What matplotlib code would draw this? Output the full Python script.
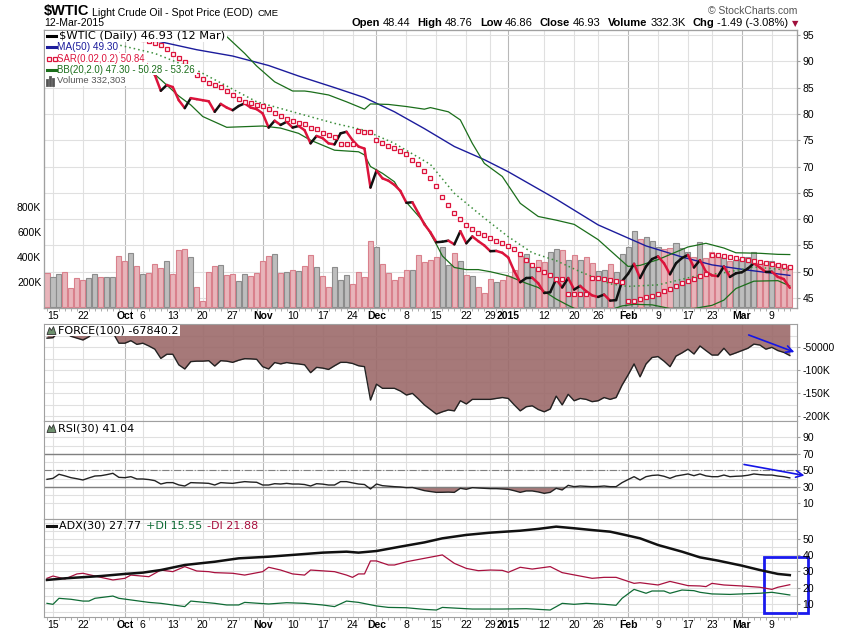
import matplotlib
matplotlib.use("Agg")
import matplotlib.pyplot as plt
from matplotlib.collections import LineCollection
from matplotlib.lines import Line2D
from matplotlib.patches import Rectangle, Polygon

plt.rcParams["font.family"] = ["DejaVu Sans"]

# trading-day index: 0 = 12 Sep 2014 ... 124 = 12 Mar 2015
tick_pos = [1, 6, 13, 16, 21, 26, 31, 36, 41, 46, 51, 55, 60, 65, 70, 74, 77,
            83, 88, 92, 97, 102, 107, 111, 116, 121]
tick_labels = ["15", "22", "Oct", "6", "13", "20", "27", "Nov", "10", "17", "24",
               "Dec", "8", "15", "22", "29", "2015", "12", "20", "26", "Feb", "9",
               "17", "23", "Mar", "9"]
month_labels = ["Oct", "Nov", "Dec", "2015", "Feb", "Mar"]

close = [92.3, 92.9, 94.9, 94.4, 93.1, 92.4, 91.5, 91.6, 92.8, 92.5, 93.5, 94.6, 91.2, 90.7, 91.0, 89.7, 90.3, 88.9, 87.4, 84.4,
         85.5, 85.1, 82.6, 81.1, 83.0, 82.8, 82.6, 82.4, 80.4, 81.9, 81.2, 80.7, 81.5, 82.0, 81.2, 80.9, 80.1, 77.4, 78.7, 77.9,
         78.5, 77.4, 77.7, 76.9, 74.4, 75.8, 75.4, 74.4, 74.2, 76.3, 76.6, 75.0, 73.8, 73.4, 66.0, 69.2, 67.75, 67.3, 66.5, 65.35,
         63.1, 63.2, 61.1, 59.0, 57.5, 55.6, 55.7, 55.9, 55.2, 57.7, 55.4, 56.7, 55.8, 55.0, 53.9, 53.95, 53.6, 52.7, 50.1, 48.0,
         48.8, 48.85, 47.8, 45.95, 46.1, 48.6, 47.0, 48.8, 46.6, 47.3, 46.3, 45.5, 45.2, 45.65, 44.5, 44.6, 48.2, 49.6, 51.5, 48.8,
         51.0, 52.4, 52.9, 51.6, 49.5, 51.6, 52.6, 53.2, 50.8, 52.2, 50.0, 49.3, 49.15, 51.0, 49.0, 49.7, 49.9, 50.6, 51.6, 50.8,
         49.95, 50.0, 49.0, 48.6, 46.93]

volume_k = [272, 240, 264, 280, 152, 232, 217, 232, 264, 240, 242, 242, 405, 370, 432, 325, 264, 272, 342, 312,
            370, 264, 458, 466, 400, 160, 47, 279, 327, 336, 255, 264, 210, 264, 247, 272, 370, 407, 424, 272,
            280, 296, 286, 328, 416, 320, 250, 160, 320, 218, 256, 186, 280, 240, 530, 480, 344, 272, 218, 240,
            298, 298, 418, 363, 376, 397, 477, 336, 429, 368, 254, 251, 158, 109, 222, 197, 216, 248, 298, 412,
            421, 320, 376, 360, 440, 461, 456, 376, 416, 376, 397, 349, 290, 296, 341, 278, 424, 477, 608, 544,
            557, 528, 483, 464, 472, 509, 470, 440, 400, 517, 390, 440, 420, 400, 370, 375, 385, 400, 440, 350,
            350, 365, 345, 345, 332]
volume_dir = ("d u u d d d d u u d u u d d u d u d d d "
              "u d d d u d d d d u d d u u d d d d u d "
              "u d u d d u d d u u u d d d d u d d d d "
              "d u d d d d u u d u d u d d d u d d d d "
              "u u d d u u d u d u d d u u d u u u u d "
              "u u u d d u u u d u d d d u d u u u u d "
              "d u d d d").split()

sar = [89.6, 89.8, 90.0, 90.4, 90.8, 91.0, 91.0, 91.0, 91.2, 91.4, 91.5, 91.7, 95.2, 95.0, 94.8, 94.6, 94.3, 93.9, 93.55, 93.1,
       92.3, 91.4, 90.6, 89.8, 88.6, 87.4, 86.7, 85.9, 85.5, 85.05, 84.3, 83.6, 82.9, 82.3, 82.0, 81.7, 81.5, 81.0, 80.1, 79.6,
       79.1, 78.7, 78.3, 78.1, 77.3, 77.2, 76.3, 76.0, 75.6, 74.2, 74.2, 74.2, 76.8, 76.5, 76.5, 75.0, 74.45, 73.9, 73.5, 73.0,
       72.4, 71.15, 70.5, 69.15, 67.8, 66.3, 64.2, 62.7, 61.2, 60.0, 58.9, 58.1, 57.35, 56.9, 56.4, 55.85, 55.4, 54.9, 54.3, 53.4,
       52.3, 51.3, 50.6, 49.9, 49.3, 48.6, 48.6, 45.7, 45.7, 45.7, 45.7, 48.8, 48.8, 48.6, 48.4, 48.2, 48.1, 44.45, 44.45, 44.85,
       45.1, 45.3, 45.75, 46.25, 46.7, 47.3, 47.8, 48.25, 48.7, 49.15, 49.6, 53.2, 53.1, 52.95, 52.75, 52.6, 52.45, 52.3, 52.1, 51.8,
       51.65, 51.45, 51.3, 51.15, 50.84]

ma50_x = [0, 7, 13, 19, 25, 31, 37, 42, 48, 53, 58, 63, 68, 73, 77, 81, 85, 92, 100, 106, 111, 117, 124]
ma50_y = [96.0, 95.6, 94.8, 93.7, 92.2, 91.0, 89.2, 87.2, 85.0, 83.1, 80.4, 77.2, 73.8, 71.3, 69.0, 66.4, 63.8, 58.9,
          54.9, 52.8, 51.3, 50.3, 49.3]

bb_up_x = [0, 10, 20, 27, 30, 33, 35, 38, 41, 43, 44, 47, 50, 53, 54, 57, 60, 63, 64, 67, 69, 71, 73, 76, 79,
           82, 85, 88, 92, 97, 99, 102, 107, 110, 113, 115, 119, 122, 124]
bb_up_y = [96.5, 96.8, 97.0, 96.6, 94.7, 91.5, 89.1, 86.1, 84.35, 84.35, 84.2, 83.6, 82.3, 80.9, 81.9, 81.8, 81.4, 80.9,
           81.2, 80.4, 78.85, 74.4, 70.6, 68.1, 63.0, 60.5, 59.8, 59.0, 56.1, 51.0, 51.2, 52.3, 54.7, 55.4, 54.5, 53.6,
           53.5, 53.3, 53.26]
bb_mid_x = [0, 6, 12, 18, 25, 30, 35, 41, 48, 53, 58, 64, 68, 73, 77, 81, 85, 89, 94, 97, 102, 108, 113, 118, 124]
bb_mid_y = [93.2, 93.3, 93.1, 91.5, 88.3, 85.3, 82.3, 80.4, 78.2, 76.9, 74.4, 70.4, 64.9, 60.2, 56.65, 53.6, 52.1, 50.0,
            47.7, 47.2, 47.5, 49.1, 49.8, 50.9, 50.28]
bb_lo_x = [0, 5, 10, 14, 17, 19, 22, 24, 26, 30, 36, 39, 42, 44, 48, 52, 53, 54, 56, 58, 60, 63, 65, 66, 68, 70,
           72, 74, 77, 80, 82, 85, 87, 89, 93, 96, 98, 101, 104, 108, 111, 113, 115, 118, 122, 124]
bb_lo_y = [89.5, 90.0, 90.2, 89.5, 88.5, 86.5, 83.4, 81.7, 79.5, 77.45, 77.7, 77.3, 76.3, 75.0, 73.1, 72.8, 72.2, 70.0,
           68.7, 67.1, 63.2, 59.3, 55.2, 53.0, 50.8, 50.4, 50.4, 50.0, 49.2, 47.8, 47.0, 44.8, 43.6, 42.5, 42.3, 43.5,
           43.8, 43.7, 43.0, 43.0, 43.6, 44.6, 46.8, 48.2, 48.3, 47.3]

force_k = [-30, -29, -15, -18, -26, -30, -34, -27, -15, -8, -5, -18, -41, -41, -35.5, -43.5, -41, -47, -54, -74,
           -65, -65, -88, -97, -81, -80, -80, -79, -90.6, -79, -80, -82.6, -78, -74.6, -75, -76, -92, -97, -83, -86,
           -83, -85, -86, -88, -105, -93.5, -95, -98, -90, -82.6, -82.6, -85, -90, -92, -164.5, -130, -139, -139, -139, -145,
           -153.6, -150, -162, -175, -185, -195, -190, -186, -188, -166, -173, -163, -163, -163, -163, -161, -159, -161, -175, -188,
           -179, -177, -185, -190, -184, -156, -175, -152, -166, -161, -163, -168, -166, -159, -163, -159, -132, -110, -86, -114,
           -86, -72, -70, -80, -92, -69, -62, -54, -64.5, -47, -57, -66.7, -66.7, -52, -66.7, -62, -57, -52, -43, -45,
           -54, -50, -57, -61, -67.84]

rsi = [39.3, 40.5, 45.4, 43.5, 41.3, 40.0, 38.5, 41.0, 43.3, 43.7, 45.0, 46.6, 41.7, 41.3, 42.5, 39.7, 39.7, 39.0, 37.7, 33.6,
       35.3, 35.3, 32.5, 31.2, 35.3, 35.0, 34.8, 34.4, 32.4, 35.3, 34.8, 34.4, 35.5, 36.5, 36.0, 35.7, 32.4, 32.4, 34.0, 33.6,
       34.4, 33.6, 33.6, 33.0, 31.2, 34.0, 33.5, 32.4, 32.4, 36.5, 36.5, 35.0, 33.6, 33.0, 27.6, 33.6, 31.6, 31.0, 30.4, 30.0,
       29.2, 29.4, 27.5, 25.6, 24.5, 23.5, 23.6, 23.8, 23.5, 28.4, 27.2, 29.2, 28.8, 28.4, 28.0, 28.0, 27.6, 27.2, 25.5, 23.5,
       25.2, 25.2, 24.0, 22.3, 23.5, 28.4, 26.4, 32.0, 30.4, 31.2, 30.8, 30.4, 30.6, 31.2, 30.4, 30.4, 35.3, 39.0, 42.5, 38.5,
       42.5, 44.0, 44.5, 43.0, 40.5, 43.3, 44.5, 45.8, 43.7, 45.8, 43.5, 42.5, 42.5, 44.5, 42.5, 43.0, 43.3, 44.2, 45.8, 45.0,
       44.5, 44.5, 43.3, 42.5, 41.04]

adx_x = [0, 3, 9, 13, 16, 19, 23, 28, 32, 37, 41, 46, 50, 52, 55, 59, 63, 66, 70, 74, 79, 82, 85, 88, 91, 94,
         96, 99, 102, 106, 109, 112, 116, 119, 122, 124]
adx_y = [24.8, 25.8, 27.2, 28.5, 29.3, 30.9, 34.0, 36.0, 38.1, 39.1, 40.2, 41.6, 42.2, 41.6, 42.6, 45.3, 47.9, 50.4,
         52.5, 53.9, 55.1, 56.2, 57.6, 56.6, 55.5, 54.5, 52.9, 50.4, 46.3, 42.2, 38.7, 36.7, 33.6, 30.9, 28.5, 27.77]
pdi_x = [0, 1, 2, 4, 6, 7, 8, 11, 12, 14, 17, 19, 23, 24, 28, 30, 32, 33, 37, 40, 43, 46, 48, 50, 52, 55, 57, 60,
         63, 65, 66, 69, 71, 76, 80, 84, 86, 88, 90, 93, 95, 96, 98, 100, 101, 103, 104, 106, 108, 109, 111, 114,
         116, 119, 121, 124]
pdi_y = [10.4, 9.8, 13.5, 12.9, 11.8, 11.8, 13.5, 14.9, 13.5, 12.5, 11.0, 10.4, 8.4, 11.8, 10.4, 9.4, 9.4, 11.0, 10.0,
         10.8, 10.4, 9.4, 8.4, 11.8, 11.0, 8.8, 7.9, 7.7, 6.7, 6.3, 7.9, 7.3, 6.9, 6.9, 7.1, 6.3, 10.4, 9.8, 10.4, 9.8,
         9.2, 13.5, 19.0, 16.6, 18.0, 18.0, 16.6, 18.6, 18.2, 17.2, 16.2, 15.9, 16.2, 16.6, 17.2, 15.55]
mdi_x = [0, 1, 3, 5, 6, 9, 11, 13, 14, 17, 19, 21, 23, 25, 27, 28, 31, 33, 36, 37, 39, 41, 43, 44, 48, 50, 51, 52,
         53, 54, 55, 57, 58, 60, 63, 66, 68, 70, 72, 74, 76, 77, 79, 81, 84, 86, 89, 91, 93, 95, 98, 99, 102, 104,
         107, 109, 110, 111, 113, 116, 119, 121, 122, 124]
mdi_y = [25.8, 27.2, 25.4, 28.5, 28.9, 26.4, 24.8, 25.8, 27.8, 26.8, 30.9, 29.9, 33.0, 30.3, 29.9, 29.3, 28.9, 27.8,
         29.9, 32.6, 30.9, 28.5, 27.8, 30.9, 29.9, 27.8, 26.4, 28.5, 28.5, 36.5, 36.5, 34.0, 34.0, 36.0, 38.1, 40.2,
         35.0, 31.9, 30.5, 30.9, 30.7, 29.5, 32.6, 31.5, 33.0, 29.3, 27.2, 25.8, 26.4, 26.4, 22.7, 23.1, 21.7, 23.9,
         21.3, 21.1, 20.7, 22.7, 21.7, 21.1, 20.3, 19.0, 20.3, 21.88]

# ---------------------------------------------------------------- layout
W, H = 850, 633
L, R = 44, 797
XLIM = (-0.5, 125.2)
days = list(range(len(close)))

RED = "#dc143c"
GREEN = "#1b6e1b"
NAVY = "#1c1c9c"
GRID = "#e0e0e0"
MGRID = "#b8b8b8"
SPINE = "#a0a0a0"
BLUE = "#1515e6"
FILL = "#9c6a6a"
TICKFONT = "Liberation Sans"


def fx(x):
    return x / W


def fy(y):
    return 1 - y / H


fig = plt.figure(figsize=(8.5, 6.33), dpi=100)


def panel(top, bottom, **kw):
    return fig.add_axes([fx(L), fy(bottom), (R - L) / W, (bottom - top) / H], **kw)


ax = panel(30, 308)
axv = ax.twinx()
axp = ax.twinx()
axf = panel(324, 421, sharex=ax)
axr = panel(421, 519, sharex=ax)
axa = panel(519, 617, sharex=ax)

for a in (ax, axv, axp, axf, axr, axa):
    for s in a.spines.values():
        s.set_color(SPINE)
        s.set_linewidth(0.8)
    a.set_xlim(*XLIM)

# vertical grid in every panel
for a in (ax, axf, axr, axa):
    for p, lab in zip(tick_pos, tick_labels):
        a.axvline(p, color=MGRID if lab in month_labels else GRID, lw=0.8, zorder=0.5)

# ---------------------------------------------------------------- price panel
ax.set_ylim(43.1, 95.95)
for v in range(45, 100, 5):
    ax.axhline(v, color=GRID, lw=0.8, zorder=0.5)
ax.yaxis.tick_right()
ax.set_yticks(range(45, 100, 5))
ax.tick_params(axis="y", labelsize=7.5, length=2, pad=2, color=SPINE, labelfontfamily=TICKFONT)

axv.set_ylim(-8, 2216)
axv.yaxis.tick_left()
axv.set_yticks([200, 400, 600, 800], ["200K", "400K", "600K", "800K"])
axv.tick_params(axis="y", labelsize=7.5, length=0, pad=2, labelfontfamily=TICKFONT)
vcol = ["#bdbdbd" if d == "u" else "#e8b4ba" for d in volume_dir]
vedge = ["#8c8c8c" if d == "u" else "#d9808c" for d in volume_dir]
axv.bar(days, volume_k, width=0.84, color=vcol, edgecolor=vedge, linewidth=0.8)

axp.set_ylim(43.1, 95.95)
axp.yaxis.set_visible(False)
axp.plot(ma50_x, ma50_y, color=NAVY, lw=1.0)
axp.plot(bb_up_x, bb_up_y, color=GREEN, lw=0.9)
axp.plot(bb_lo_x, bb_lo_y, color=GREEN, lw=0.9)
axp.plot(bb_mid_x, bb_mid_y, color="#3d8f3d", lw=1.1, ls=(0, (1, 2)))
segs = [[(i, close[i]), (i + 1, close[i + 1])] for i in range(len(close) - 1)]
scol = ["#111111" if close[i + 1] >= close[i] else RED for i in range(len(close) - 1)]
axp.add_collection(LineCollection(segs, colors=scol, linewidths=1.8, capstyle="round", joinstyle="round"))
axp.plot(days, sar, ls="none", marker="s", ms=2.2, mfc="#fff4f6", mec=RED, mew=0.9)

# x ticks (shared)
ax.set_xticks(tick_pos, tick_labels)
ax.set_xticks(days, minor=True)
for a in (ax, axa):
    a.tick_params(axis="x", which="major", length=0, pad=2, labelsize=7.5, labelfontfamily=TICKFONT)
    a.tick_params(axis="x", which="minor", length=2, color=SPINE)
    for t in a.xaxis.get_majorticklabels():
        if t.get_text() in month_labels:
            t.set_fontweight("bold")
for a in (axf, axr):
    a.tick_params(axis="x", which="both", length=0, labelbottom=False)

# ---------------------------------------------------------------- force
axf.set_ylim(-210, 0.7)
for v in range(-25, -210, -25):
    axf.axhline(v, color=GRID, lw=0.8, zorder=0.5)
axf.fill_between(days, force_k, 0, color=FILL, alpha=0.9, lw=0, zorder=1)
axf.plot(days, force_k, color="#222222", lw=1.0, zorder=2)
axf.yaxis.tick_right()
axf.set_yticks([-50, -100, -150, -200], ["-50000", "-100K", "-150K", "-200K"])
axf.tick_params(axis="y", labelsize=7.5, length=2, pad=2, color=SPINE, labelfontfamily=TICKFONT)
axf.annotate("", xy=(125.2, -62.4), xytext=(116.7, -21), annotation_clip=False,
             arrowprops=dict(arrowstyle="->", color=BLUE, lw=1.2, mutation_scale=12))

# ---------------------------------------------------------------- RSI
axr.set_ylim(-8.8, 110)
for v in range(10, 100, 10):
    axr.axhline(v, color=GRID, lw=0.8, zorder=0.5)
axr.axhline(70, color="#808080", lw=1.0)
axr.axhline(30, color="#808080", lw=1.0)
axr.axhline(50, color="#808080", lw=0.8, ls="-.")
axr.fill_between(days, rsi, 30, where=[v < 30 for v in rsi], interpolate=True,
                 color=FILL, alpha=0.9, lw=0)
axr.plot(days, rsi, color="#222222", lw=1.0)
axr.yaxis.tick_right()
axr.set_yticks([10, 30, 50, 70, 90])
axr.tick_params(axis="y", labelsize=7.5, length=2, pad=2, color=SPINE, labelfontfamily=TICKFONT)
axr.annotate("", xy=(126.9, 43.3), xytext=(115.9, 57.9), annotation_clip=False,
             arrowprops=dict(arrowstyle="->", color=BLUE, lw=1.2, mutation_scale=12))

# ---------------------------------------------------------------- ADX
axa.set_ylim(2.0, 62.3)
for v in range(5, 62, 5):
    axa.axhline(v, color=GRID, lw=0.8, zorder=0.5)
axa.plot(mdi_x, mdi_y, color="#a8103e", lw=0.9)
axa.plot(pdi_x, pdi_y, color="#0f6b35", lw=0.9)
axa.plot(adx_x, adx_y, color="#111111", lw=1.8)
axa.yaxis.tick_right()
axa.set_yticks([10, 20, 30, 40, 50])
axa.tick_params(axis="y", labelsize=7.5, length=2, pad=2, color=SPINE, labelfontfamily=TICKFONT)
axa.add_patch(Rectangle((119.7, 4.5), 7.3, 34.4, fill=False, ec="#1a1aee", lw=2, clip_on=False))

# ---------------------------------------------------------------- texts
renderer = fig.canvas.get_renderer()


def run(x, y, pieces, right=False, va="baseline"):
    arts = []
    for s, gap, kw in pieces:
        t = fig.text(0, fy(y), s, va=va, ha="left", parse_math=False, zorder=3, **kw)
        arts.append((t, gap))
    widths = [t.get_window_extent(renderer).width for t, g in arts]
    total = sum(widths) + sum(g for t, g in arts[:-1])
    cur = x - total if right else x
    for (t, g), w in zip(arts, widths):
        t.set_x(fx(cur))
        cur += w + g
    return cur


LS = dict(family="Liberation Sans")
run(44, 15.5, [("$WTIC", 3, dict(fontsize=10.5, weight="bold", **LS)),
               ("Light Crude Oil - Spot Price (EOD)", 4, dict(fontsize=7.6, **LS)),
               ("CME", 0, dict(fontsize=6.8, **LS))])
run(44, 26.5, [("12-Mar-2015", 0, dict(fontsize=7.5, **LS))])
run(797, 14, [("\u00a9 StockCharts.com", 0, dict(fontsize=7.5, color="#555555", **LS))], right=True)
hb = dict(fontsize=8, weight="bold", **LS)
hn = dict(fontsize=8, **LS)
run(798, 26.5, [("Open", 3, hb), ("48.44", 7, hn), ("High", 3, hb), ("48.76", 7, hn),
                ("Low", 3, hb), ("46.86", 7, hn), ("Close", 3, hb), ("46.93", 7, hn),
                ("Volume", 3, hb), ("332.3K", 7, hn), ("Chg", 3, hb), ("-1.49 (-3.08%)", 3, hn),
                ("\u25bc", 0, dict(fontsize=6, color="#a0103c"))], right=True)

# main legend rows with white boxes (text start, text end in px, font)
legend_rows = [("$WTIC (Daily) 46.93 (12 Mar)", "#000000", 59, 226, "DejaVu Sans"),
               ("MA(50) 49.30", NAVY, 57, 117, "Liberation Sans"),
               ("SAR(0.02,0.2) 50.84", RED, 57.5, 145, "Liberation Sans"),
               ("BB(20,2.0) 47.30 - 50.28 - 53.26", GREEN, 57.5, 195, "Liberation Sans"),
               ("Volume 332,303", "#555555", 57, 126, "Liberation Sans")]
for k, (s, c, xs, xe, fam) in enumerate(legend_rows):
    top = 30.5 + 11.1 * k
    mid = top + 5.8
    t = fig.text(fx(xs), fy(mid), s, color=c, fontsize=8, family=fam, va="center",
                 parse_math=False, zorder=3)
    w = t.get_window_extent(renderer).width
    t.set_fontsize(min(8.2, 8 * (xe - xs) / w))
    fig.add_artist(Rectangle((fx(44.5), fy(top + 11.1)), (xe + 1.5 - 44.5) / W, 11.1 / H,
                             transform=fig.transFigure, fc="white", ec="none", zorder=2.5))
    if k == 2:
        fig.add_artist(Line2D([fx(48.5), fx(54.5)], [fy(mid), fy(mid)], transform=fig.transFigure,
                              ls="none", marker="s", ms=2.2, mfc="white", mec=RED, mew=0.9, zorder=3))
    elif k == 4:
        for bx, bh in ((47, 5), (50, 8), (53, 6)):
            fig.add_artist(Line2D([fx(bx), fx(bx)], [fy(mid + 4), fy(mid + 4 - bh)],
                                  transform=fig.transFigure, color="#555555", lw=2, zorder=3))
    else:
        fig.add_artist(Line2D([fx(47), fx(56)], [fy(mid), fy(mid)], transform=fig.transFigure,
                              color=c, lw=2.2, zorder=3))


def mountain(cy):
    pts = [(fx(47), fy(cy + 4)), (fx(49.5), fy(cy - 3)), (fx(51.5), fy(cy)),
           (fx(53.5), fy(cy - 4)), (fx(56), fy(cy + 4))]
    fig.add_artist(Polygon(pts, closed=True, transform=fig.transFigure, fc="#6e906e",
                           ec="#333333", lw=0.6, zorder=3))


# force label
t = fig.text(fx(58), fy(330.5), "FORCE(100) -67840.2", fontsize=8, va="center", zorder=3)
w = t.get_window_extent(renderer).width
fig.add_artist(Rectangle((fx(45), fy(336)), (58 + w + 1 - 45) / W, 11.5 / H,
                         transform=fig.transFigure, fc="white", ec="none", zorder=2.5))
mountain(330.5)

# RSI label
fig.text(fx(58), fy(428.5), "RSI(30) 41.04", fontsize=8, va="center", zorder=3)
mountain(428.5)

# ADX label
fig.add_artist(Line2D([fx(47), fx(56)], [fy(526), fy(526)], transform=fig.transFigure,
                      color="#111111", lw=2.2, zorder=3))
run(59, 526, [("ADX(30) 27.77", 5, dict(fontsize=8)),
              ("+DI 15.55", 5, dict(fontsize=8, color="#0f6b35")),
              ("-DI 21.88", 0, dict(fontsize=8, color="#a8103e"))], va="center")

fig.savefig("out.png", dpi=100)
